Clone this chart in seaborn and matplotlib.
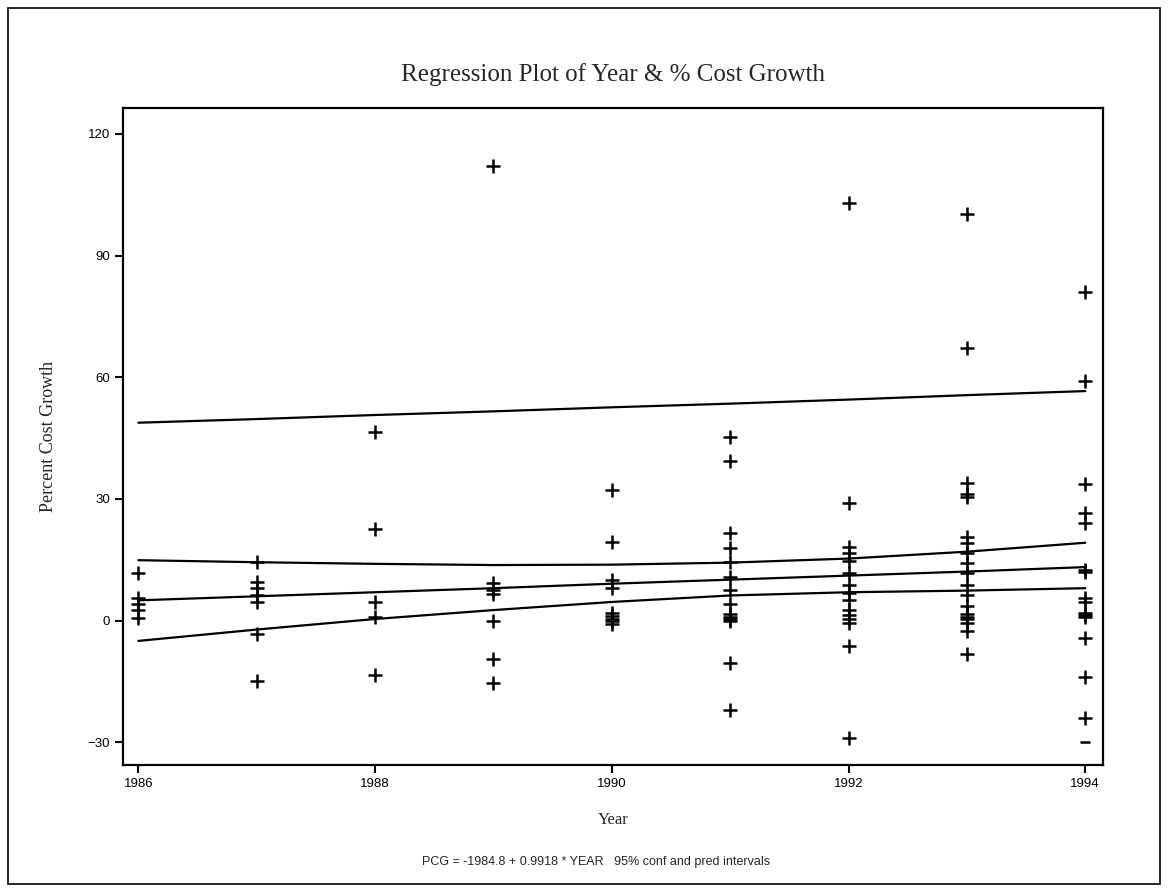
import matplotlib
matplotlib.use("Agg")
import matplotlib.pyplot as plt
from matplotlib.patches import Rectangle
import pandas as pd
import seaborn as sns

# points, one list per year
pcg_1986 = [11.7, 5.7, 4.0, 2.5, 0.6]
pcg_1987 = [14.4, 9.5, 8.0, 6.2, 4.5, -3.3, -15.0]
pcg_1988 = [46.5, 22.6, 4.5, 0.8, -13.3]
pcg_1989 = [112.0, 9.2, 7.5, 6.5, 0.0, -9.5, -15.5]
pcg_1990 = [32.3, 19.4, 10.0, 8.0, 2.0, 1.2, 0.5, 0.0, -0.8]
pcg_1991 = [45.3, 39.3, 21.6, 17.9, 14.4, 10.7, 7.5, 4.2, 1.7, 1.0, 0.5, 0.0, -10.5, -22.0]
pcg_1992 = [103.0, 29.1, 18.2, 16.7, 14.7, 11.7, 8.7, 6.7, 5.0, 2.5, 1.5, 0.5, -0.5, -6.2, -29.0]
pcg_1993 = [100.2, 67.2, 34.0, 31.1, 30.5, 20.6, 19.2, 16.7, 14.2, 11.7, 8.7, 6.2, 3.7,
            1.7, 1.0, 0.3, -0.7, -2.5, -8.3]
pcg_1994 = [81.0, 59.0, 33.6, 26.6, 24.1, 12.4, 12.0, 5.5, 4.5, 2.0, 1.5, 0.8, -4.2, -14.0, -24.0]

# stray dash at the bottom right of the scan
dash_year = [1994]
dash_pcg = [-30.0]

# fitted line and interval curves
fit_years = [1986, 1987, 1988, 1989, 1990, 1991, 1992, 1993, 1994]
fit_mid = [5.0, 6.0, 7.0, 8.0, 9.1, 10.1, 11.1, 12.1, 13.2]
conf_hi = [14.9, 14.4, 14.0, 13.7, 13.8, 14.3, 15.3, 17.0, 19.2]
conf_lo = [-5.0, -2.2, 0.4, 2.6, 4.6, 6.2, 7.0, 7.4, 8.0]
pred_hi = [48.8, 49.7, 50.7, 51.6, 52.6, 53.5, 54.5, 55.6, 56.6]

x_ticks = [1986, 1988, 1990, 1992, 1994]
y_ticks = [-30, 0, 30, 60, 90, 120]

by_year = {1986: pcg_1986, 1987: pcg_1987, 1988: pcg_1988, 1989: pcg_1989, 1990: pcg_1990,
           1991: pcg_1991, 1992: pcg_1992, 1993: pcg_1993, 1994: pcg_1994}
pts = pd.DataFrame([(yr, v) for yr, vals in by_year.items() for v in vals], columns=["year", "pcg"])

sns.set_theme(style="white")
plt.rcParams["font.family"] = ["Liberation Sans", "DejaVu Sans"]

fig = plt.figure(figsize=(11.68, 8.88), dpi=100)
ax = fig.add_axes([123 / 1168, 1 - 765 / 888, 980 / 1168, 657 / 888])

for curve in [fit_mid, conf_hi, conf_lo, pred_hi]:
    sns.lineplot(x=fit_years, y=curve, ax=ax, color="black", linewidth=1.6)

sns.scatterplot(data=pts, x="year", y="pcg", ax=ax, marker="+", s=90,
                color="black", linewidth=1.8)
sns.scatterplot(x=dash_year, y=dash_pcg, ax=ax, marker="_", s=60,
                color="black", linewidth=1.8)

ax.set_xlim(1985.87, 1994.15)
ax.set_ylim(-35.6, 126.4)
ax.set_xticks(x_ticks)
ax.set_yticks(y_ticks)
ax.tick_params(axis="both", direction="out", length=6, width=1.5, colors="black",
               labelsize=9.5, left=True, bottom=True)
for s in ax.spines.values():
    s.set_color("black")
    s.set_linewidth(1.6)

ax.set_xlabel("Year", family=["Liberation Serif"], fontsize=12, labelpad=16)
ax.set_ylabel("Percent Cost Growth", family=["Liberation Serif"], fontsize=13, labelpad=22)

fig.text(613 / 1168, 1 - 75 / 888, "Regression Plot of Year & % Cost Growth",
         family=["Liberation Serif"], fontsize=18, ha="center", va="center")
fig.text(596 / 1168, 1 - 862 / 888,
         "PCG = -1984.8 + 0.9918 * YEAR   95% conf and pred intervals",
         fontsize=9, ha="center", va="center")

fig.patches.append(Rectangle((8 / 1168, 1 - 884 / 888), 1152 / 1168, 876 / 888,
                             transform=fig.transFigure, fill=False,
                             edgecolor="black", linewidth=1.2))

fig.savefig("out.png", dpi=100)
